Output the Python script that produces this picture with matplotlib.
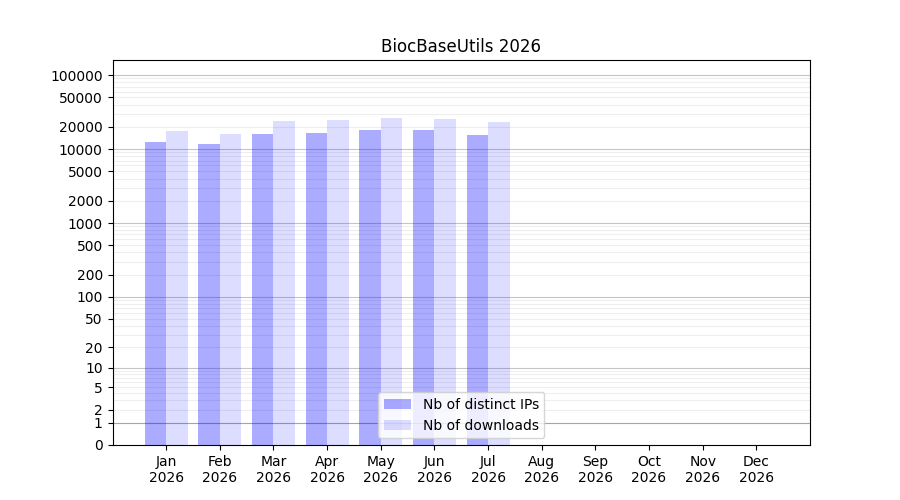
import numpy as np
import matplotlib
matplotlib.use("Agg")
import matplotlib.pyplot as plt

# monthly stats
months = ["Jan", "Feb", "Mar", "Apr", "May", "Jun", "Jul", "Aug", "Sep", "Oct", "Nov", "Dec"]
year = 2026
distinct_ips = [12550, 11800, 16100, 16600, 18200, 18200, 15600]
downloads = [17700, 16100, 24100, 24900, 26500, 25700, 23400]

ytick_values = [0, 1, 2, 5, 10, 20, 50, 100, 200, 500, 1000, 2000,
                5000, 10000, 20000, 50000, 100000]


def fwd(y):
    return np.log10(1 + np.clip(y, 0, None))


def inv(t):
    return 10 ** t - 1


fig, ax = plt.subplots(figsize=(9, 5), dpi=100)
ax.set_yscale("function", functions=(fwd, inv))

x = np.arange(1, len(distinct_ips) + 1)
ax.bar(x - 0.4, distinct_ips, width=0.4, align="edge",
       color=(0, 0, 1, 0.33), label="Nb of distinct IPs", zorder=2)
ax.bar(x, downloads, width=0.4, align="edge",
       color=(0, 0, 1, 0.135), label="Nb of downloads", zorder=2)

# grid: darker at 0, 1, 10, 100, ... lighter in between
ymax = 160000
ax.axhline(1, color="0.5", alpha=0.45, lw=0.8, zorder=1)
for k in range(0, 6):
    ax.axhline(10 ** k, color="0.5", alpha=0.45, lw=0.8, zorder=1)
    for m in range(2, 10):
        if m * 10 ** k < ymax:
            ax.axhline(m * 10 ** k, color="0.5", alpha=0.13, lw=0.8, zorder=1)

ax.set_ylim(0, ymax)
ax.set_yticks(ytick_values)
ax.set_yticklabels([str(v) for v in ytick_values])
ax.minorticks_off()

ax.set_xlim(0, 13)
ax.set_xticks(np.arange(1, 13))
ax.set_xticklabels([f"{m}\n{year}" for m in months])

ax.set_title("BiocBaseUtils 2026")
ax.legend(loc="lower center")

plt.savefig("out.png")
